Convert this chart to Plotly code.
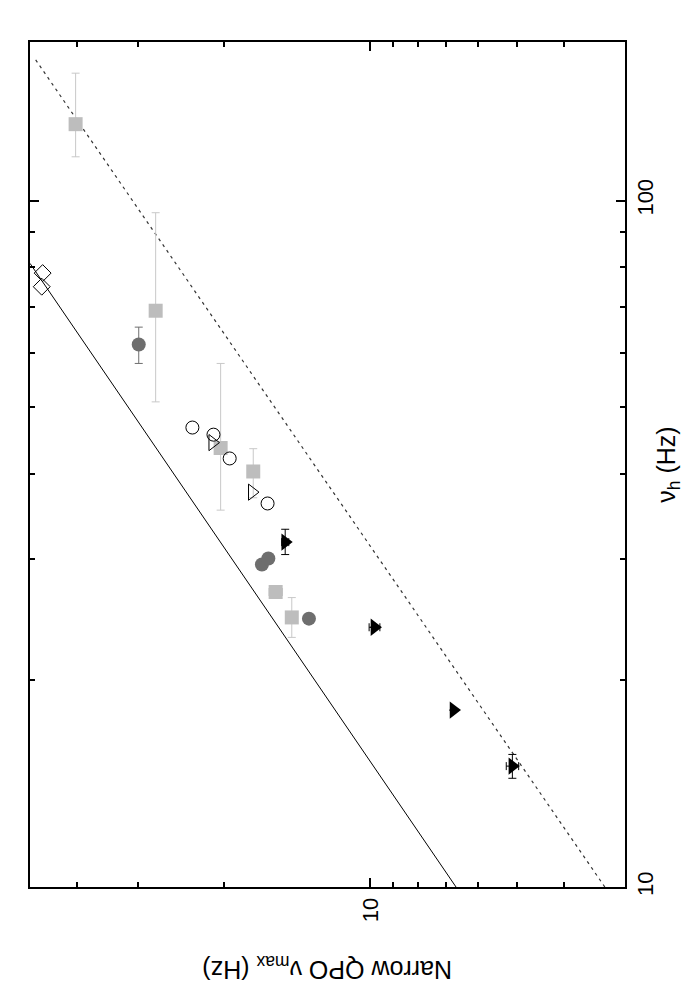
import numpy as np
import plotly.graph_objects as go

# nu_max = narrow QPO frequency (horizontal, reversed), nu_h = vertical axis
# light grey squares
sq_numax = [40.3, 27.6, 20.3, 17.4, 15.65, 14.5]
sq_nuh = [129.2, 69.1, 43.6, 40.3, 26.9, 24.7]
sq_nuh_lo = [115.8, 50.9, 35.4, 36.9, 26.9, 23.1]
sq_nuh_hi = [153.3, 96.0, 57.9, 43.5, 26.9, 26.4]
sq_numax_err = [0, 0, 0, 0, 0.5, 0]

# dark grey circles
dc_numax = [29.9, 16.7, 16.2, 13.37]
dc_nuh = [61.7, 29.5, 30.1, 24.6]
dc_nuh_lo = [57.9, 29.5, 30.1, 24.6]
dc_nuh_hi = [65.4, 29.5, 30.1, 24.6]

# open circles
oc_numax = [23.2, 21.0, 19.45, 16.26]
oc_nuh = [46.7, 45.6, 42.1, 36.2]

# open triangles
ot_numax = [21.1, 17.5]
ot_nuh = [44.4, 37.6]

# filled black triangles
bt_numax = [14.96, 9.81, 6.75, 5.11]
bt_nuh = [31.8, 23.9, 18.1, 15.0]
bt_nuh_lo = [30.5, 23.9, 18.1, 14.4]
bt_nuh_hi = [33.2, 23.9, 18.1, 15.6]
bt_numax_err = [0.25, 0.25, 0, 0.15]

# open diamonds
di_numax = [47.1, 47.3]
di_nuh = [78.4, 74.9]

# reference lines (end points)
solid_nuh = [10, 81]
solid_numax = [6.67, 50]
dash_nuh = [10, 161.4]
dash_numax = [3.30, 49.0]


def yerr(val, lo, hi):
    return dict(type='data', symmetric=False,
                array=[h - v for v, h in zip(val, hi)],
                arrayminus=[v - l for v, l in zip(val, lo)],
                width=4, thickness=1)


fig = go.Figure()

fig.add_trace(go.Scatter(
    x=solid_numax, y=solid_nuh, mode='lines',
    line=dict(color='black', width=1)))
fig.add_trace(go.Scatter(
    x=dash_numax, y=dash_nuh, mode='lines',
    line=dict(color='#333333', width=1.2, dash='3px,4px')))

ey = yerr(sq_nuh, sq_nuh_lo, sq_nuh_hi)
ey['color'] = '#c8c8c8'
fig.add_trace(go.Scatter(
    x=sq_numax, y=sq_nuh, mode='markers',
    marker=dict(symbol='square', size=14, color='#bdbdbd'),
    error_y=ey,
    error_x=dict(type='data', array=sq_numax_err, color='#c8c8c8', width=4, thickness=1)))

ey = yerr(dc_nuh, dc_nuh_lo, dc_nuh_hi)
ey['color'] = '#6e6e6e'
fig.add_trace(go.Scatter(
    x=dc_numax, y=dc_nuh, mode='markers',
    marker=dict(symbol='circle', size=14, color='#6e6e6e'),
    error_y=ey))

fig.add_trace(go.Scatter(
    x=oc_numax, y=oc_nuh, mode='markers',
    marker=dict(symbol='circle-open', size=13, color='black', line=dict(width=1))))

fig.add_trace(go.Scatter(
    x=ot_numax, y=ot_nuh, mode='markers',
    marker=dict(symbol='triangle-right-open', size=14, color='black', line=dict(width=1))))

ey = yerr(bt_nuh, bt_nuh_lo, bt_nuh_hi)
ey['color'] = 'black'
fig.add_trace(go.Scatter(
    x=bt_numax, y=bt_nuh, mode='markers',
    marker=dict(symbol='triangle-right', size=15, color='black'),
    error_y=ey,
    error_x=dict(type='data', array=bt_numax_err, color='black', width=4, thickness=1)))

fig.add_trace(go.Scatter(
    x=di_numax, y=di_nuh, mode='markers',
    marker=dict(symbol='diamond-open', size=13, color='black', line=dict(width=1))))

axis_style = dict(
    type='log', showgrid=False, zeroline=False,
    showline=True, linecolor='black', linewidth=2, mirror='allticks',
    ticks='inside', ticklen=9, tickwidth=1.5, tickcolor='black',
    tickangle=-90, tickfont=dict(size=22, color='black'),
)

fig.update_xaxes(
    **axis_style,
    range=[np.log10(50), np.log10(3)],
    tickvals=[10], ticktext=['10'],
    minor=dict(tickvals=[4, 5, 6, 7, 8, 9, 20, 30, 40], ticks='inside',
               ticklen=5, tickwidth=1.5, tickcolor='black'),
)
fig.update_yaxes(
    **axis_style,
    side='right',
    range=[1, np.log10(170.2)],
    tickvals=[10, 100], ticktext=['10', '100'],
    minor=dict(tickvals=[20, 30, 40, 50, 60, 70, 80, 90], ticks='inside',
               ticklen=5, tickwidth=1.5, tickcolor='black'),
    title=dict(text='ν<sub>h</sub> (Hz)', font=dict(size=25, color='black'), standoff=0),
)

fig.add_annotation(
    text='Narrow QPO ν<sub>max</sub> (Hz)', textangle=180,
    xref='paper', yref='paper', x=0.5, y=-0.096,
    xanchor='center', yanchor='middle', showarrow=False,
    font=dict(size=25, color='black'),
)

# page body adds an 8px offset, so the figure is a bit smaller than the window
fig.update_layout(
    width=692, height=992,
    margin=dict(l=22, r=75, t=34, b=113),
    plot_bgcolor='white', paper_bgcolor='white',
    showlegend=False,
    font=dict(family='Liberation Sans, Arial, sans-serif'),
)

fig.write_html("out.html")
